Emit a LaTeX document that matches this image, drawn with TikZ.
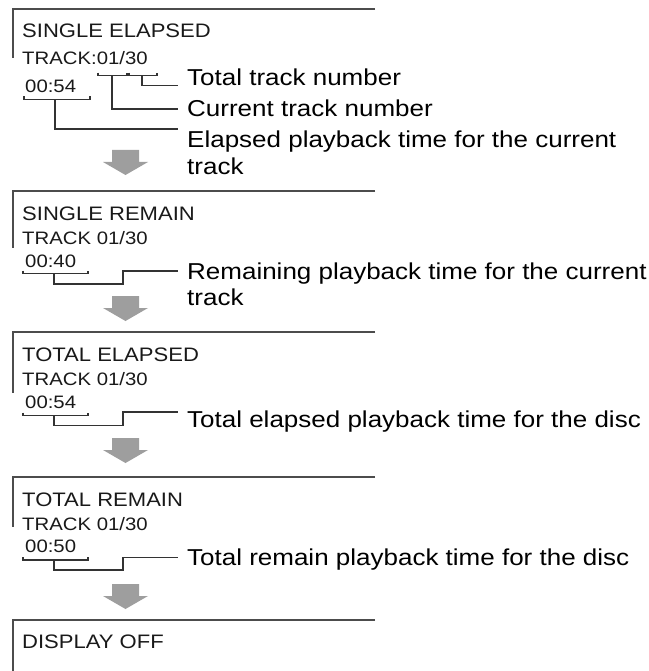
\documentclass[tikz,border=0pt]{standalone}
\usepackage{fontspec}
\setmainfont{Liberation Sans}[FakeStretch=1.13]
\usepackage{tikz}
\usetikzlibrary{positioning,calc}
\definecolor{framegray}{rgb}{0.3,0.3,0.3}
\definecolor{arrowgray}{rgb}{0.62,0.62,0.62}
\newcommand{\hdrsize}{\fontsize{19.5}{22}\selectfont}
\newcommand{\dispsize}{\fontsize{18}{21}\selectfont}
\newcommand{\lblsize}{\fontsize{23}{26.5}\selectfont}
\tikzstyle{frame}=[%
      draw=framegray, line width=1.8pt
]
\tikzstyle{lead}=[%
      draw=black!80, line width=1.4pt
]
\tikzstyle{hdr}=[%
      anchor=base west, inner sep=0pt, font=\hdrsize, text=black!90
]
\tikzstyle{disp}=[%
      anchor=base west, inner sep=0pt, font=\dispsize, text=black!90
]
\tikzstyle{lbl}=[%
      anchor=base west, inner sep=0pt, font=\lblsize, align=left, text=black
]
\tikzstyle{flow}=[%
      fill=arrowgray, draw=none
]
% bracket under a display field
\newcommand{\brkt}[3]{\draw[lead] (#1,#3-3) -- (#1,#3) -- (#2,#3) -- (#2,#3-3);}
% grey step arrow
\newcommand{\downarr}[1]{\fill[flow, shift={(0,#1)}] (112,0) -- (139,0) -- (139,12) -- (148,12) -- (125.5,25) -- (103,12) -- (112,12) -- cycle;}

\begin{document}
\begin{tikzpicture}[x=1pt, y=-1pt]
    \useasboundingbox (0,0) rectangle (648,671);

    % SINGLE ELAPSED
    \draw[frame] (375,9) -- (13,9) -- (13,58);
    \node[hdr]  (h1) at (22,38)   {SINGLE ELAPSED};
    \node[disp] (k1) at (22,65)   {TRACK:01/30};
    \node[disp] (t1) at (25,92.7) {00:54};
    \brkt{98}{127}{75.7}
    \brkt{129}{157}{75.7}
    \brkt{24}{90}{99.3}
    \coordinate (c01) at (112,75.7);
    \coordinate (c30) at (142,75.7);
    \coordinate (c1)  at (55,99.3);
    \coordinate (e1a) at (178,85.7);
    \coordinate (e1b) at (178,109);
    \coordinate (e1c) at (178,129);
    \node[lbl] (l1a) at (187,86)    {Total track number};
    \node[lbl] (l1b) at (187,116.5) {Current track number};
    \node[lbl] (l1c) at (187,174.5) {Elapsed playback time for the current\\track};
    \draw[lead] (c30) |- (e1a);
    \draw[lead] (c01) |- (e1b);
    \draw[lead] (c1)  |- (e1c);
    \downarr{150}

    % SINGLE REMAIN
    \draw[frame] (375,191) -- (13,191) -- (13,248);
    \node[hdr]  (h2) at (22,220) {SINGLE REMAIN};
    \node[disp] (k2) at (22,244) {TRACK 01/30};
    \node[disp] (t2) at (25,267) {00:40};
    \brkt{23}{88}{273.5}
    \coordinate (c2) at (54,273.5);
    \coordinate (s2) at (123,284);
    \coordinate (e2) at (178,271);
    \node[lbl] (l2) at (187,305.5) {Remaining playback time for the current\\track};
    \draw[lead] (c2) |- (s2) |- (e2);
    \downarr{296}

    % TOTAL ELAPSED
    \draw[frame] (375,332) -- (13,332) -- (13,393);
    \node[hdr]  (h3) at (22,361) {TOTAL ELAPSED};
    \node[disp] (k3) at (22,385) {TRACK 01/30};
    \node[disp] (t3) at (25,408) {00:54};
    \brkt{23}{88}{415.7}
    \coordinate (c3) at (54,415.7);
    \coordinate (s3) at (123,425.7);
    \coordinate (e3) at (178,412);
    \node[lbl] (l3) at (187,427) {Total elapsed playback time for the disc};
    \draw[lead] (c3) |- (s3) |- (e3);
    \downarr{438}

    % TOTAL REMAIN
    \draw[frame] (375,477) -- (13,477) -- (13,527);
    \node[hdr]  (h4) at (22,506) {TOTAL REMAIN};
    \node[disp] (k4) at (22,530) {TRACK 01/30};
    \node[disp] (t4) at (25,552) {00:50};
    \brkt{23}{88}{560}
    \coordinate (c4) at (54,560);
    \coordinate (s4) at (123,570);
    \coordinate (e4) at (178,557.5);
    \node[lbl] (l4) at (187,565) {Total remain playback time for the disc};
    \draw[lead] (c4) |- (s4) |- (e4);
    \downarr{584}

    % DISPLAY OFF
    \draw[frame] (375,620) -- (13,620) -- (13,671);
    \node[hdr]  (h5) at (22,648) {DISPLAY OFF};

\end{tikzpicture}
\end{document}
